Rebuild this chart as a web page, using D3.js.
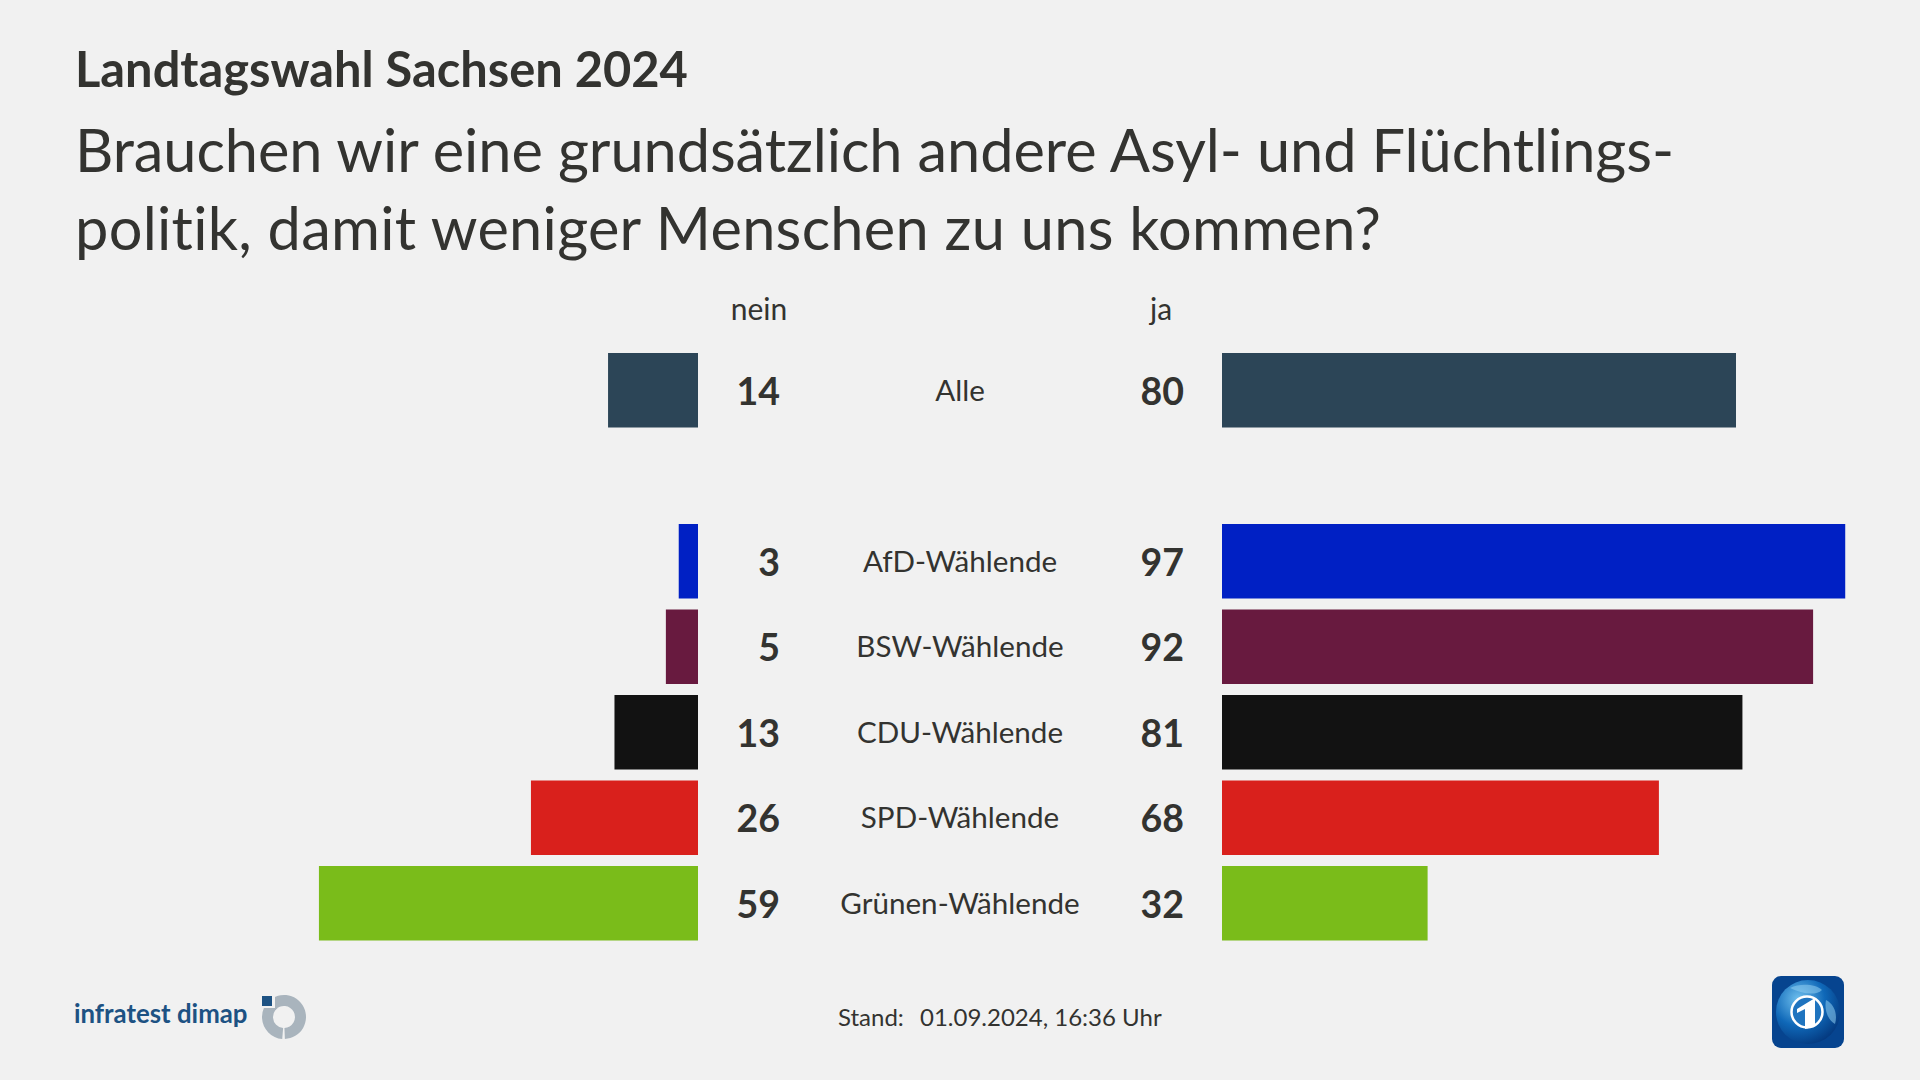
<!DOCTYPE html>
<html><head><meta charset="utf-8">
<script src="https://cdn.jsdelivr.net/npm/d3@7"></script>
<style>html,body{margin:0;padding:0;background:#f1f1f1}svg{display:block}text{font-family:Lato,"Open Sans",sans-serif;fill:#333330;font-variant-ligatures:none}</style>
</head><body><svg id="c" width="1920" height="1080"></svg>
<script>
const categories=["Alle","","AfD-Wählende","BSW-Wählende","CDU-Wählende","SPD-Wählende","Grünen-Wählende"];
const nein=[14,null,3,5,13,26,59];
const ja=[80,null,97,92,81,68,32];
const colors=["#2c4557",null,"#0020c4","#681a3f","#121212","#d9201c","#7abc1a"];
const title="Landtagswahl Sachsen 2024";
const subtitle=["Brauchen wir eine grundsätzlich andere Asyl- und Flüchtlings-","politik, damit weniger Menschen zu uns kommen?"];
const subtitleWidths=[1599,1306];
const headers=["nein","ja"];
const standLabel="Stand:";
const standValue="01.09.2024, 16:36 Uhr";

const svg=d3.select("#c");
svg.append("rect").attr("width",1920).attr("height",1080).attr("fill","#f1f1f1");
const y=d3.scaleBand().domain(categories).range([353,353+85.5*7-11]).paddingInner(11/85.5).paddingOuter(0);
const unit=6.425;
const xR=d3.scaleLinear().domain([0,100]).range([1222,1222+unit*100]);
const xL=d3.scaleLinear().domain([0,100]).range([698,698-unit*100]);
const rows=categories.map((c,i)=>({c,n:nein[i],j:ja[i],col:colors[i]})).filter(d=>d.c);

svg.selectAll(".l").data(rows).join("rect").attr("x",d=>xL(d.n)).attr("y",d=>y(d.c)).attr("width",d=>xL(0)-xL(d.n)).attr("height",y.bandwidth()).attr("fill",d=>d.col);
svg.selectAll(".r").data(rows).join("rect").attr("x",xR(0)).attr("y",d=>y(d.c)).attr("width",d=>xR(d.j)-xR(0)).attr("height",y.bandwidth()).attr("fill",d=>d.col);
const cy=d=>y(d.c)+y.bandwidth()/2;
svg.selectAll(".nv").data(rows).join("text").attr("x",780).attr("y",cy).attr("dy","0.38em").attr("text-anchor","end").attr("font-size",37.5).attr("font-weight",700).text(d=>d.n);
svg.selectAll(".jv").data(rows).join("text").attr("x",1184).attr("y",cy).attr("dy","0.38em").attr("text-anchor","end").attr("font-size",37.5).attr("font-weight",700).text(d=>d.j);
svg.selectAll(".cl").data(rows).join("text").attr("x",960).attr("y",cy).attr("dy","0.36em").attr("text-anchor","middle").attr("font-size",29.6).text(d=>d.c);
svg.append("text").attr("x",759).attr("y",320).attr("text-anchor","middle").attr("font-size",30).text(headers[0]);
svg.append("text").attr("x",1161).attr("y",320).attr("text-anchor","middle").attr("font-size",30).text(headers[1]);
svg.append("text").attr("x",75).attr("y",87).attr("font-size",48.8).attr("font-weight",700).text(title);
subtitle.forEach((s,i)=>svg.append("text").attr("x",75).attr("y",172+i*77.5).attr("font-size",59.5).attr("textLength",subtitleWidths[i]).attr("lengthAdjust","spacing").text(s));
svg.append("text").attr("x",838).attr("y",1026).attr("font-size",24).text(standLabel);
svg.append("text").attr("x",920).attr("y",1026).attr("font-size",24).text(standValue);

// infratest dimap logo
svg.append("text").attr("x",74).attr("y",1023).attr("font-size",25.8).attr("font-weight",700).style("fill","#1d5283").text("infratest dimap");
const defs=svg.append("defs");
defs.append("clipPath").attr("id","cl").append("rect").attr("x",-30).attr("y",-9).attr("width",60).attr("height",40);
defs.append("clipPath").attr("id","cr").append("rect").attr("x",-9).attr("y",-30).attr("width",40).attr("height",60);
const g=svg.append("g").attr("transform","translate(284,1017)");
const arc=d3.arc().innerRadius(11).outerRadius(22);
g.append("g").attr("clip-path","url(#cr)").append("path").attr("d",arc({startAngle:-0.9,endAngle:Math.PI-0.04})).attr("fill","#a9b4bd");
g.append("g").attr("clip-path","url(#cl)").append("path").attr("d",arc({startAngle:Math.PI+0.08,endAngle:Math.PI*2-0.2})).attr("fill","#a9b4bd");
g.append("rect").attr("x",-22).attr("y",-21).attr("width",10).attr("height",10).attr("fill","#1d5283");

// Das Erste / tagesschau icon
const rg=defs.append("radialGradient").attr("id","glob").attr("cx","35%").attr("cy","30%").attr("r","75%");
rg.append("stop").attr("offset","0%").attr("stop-color","#6fc0ee");
rg.append("stop").attr("offset","55%").attr("stop-color","#0f68b8");
rg.append("stop").attr("offset","100%").attr("stop-color","#04397f");
const ic=svg.append("g").attr("transform","translate(1808,1012)");
ic.append("rect").attr("x",-36).attr("y",-36).attr("width",72).attr("height",72).attr("rx",9).attr("fill","#06448f");
ic.append("circle").attr("r",32).attr("fill","url(#glob)");
ic.append("path").attr("d","M-18,-24C-8,-29 8,-28 14,-22C8,-16 -6,-18 -18,-24ZM18,-12C26,-8 30,2 27,12C20,8 16,-2 18,-12Z").attr("fill","#8fcdf0").attr("opacity",0.55);
ic.append("circle").attr("cx",-1).attr("r",15.5).attr("fill","#1f74bf").attr("stroke","#fff").attr("stroke-width",2.5);
ic.append("path").attr("d","M-11,-3L7,-14V14L-3,17V-3L-11,1Z").attr("fill","#fff");
</script></body></html>
